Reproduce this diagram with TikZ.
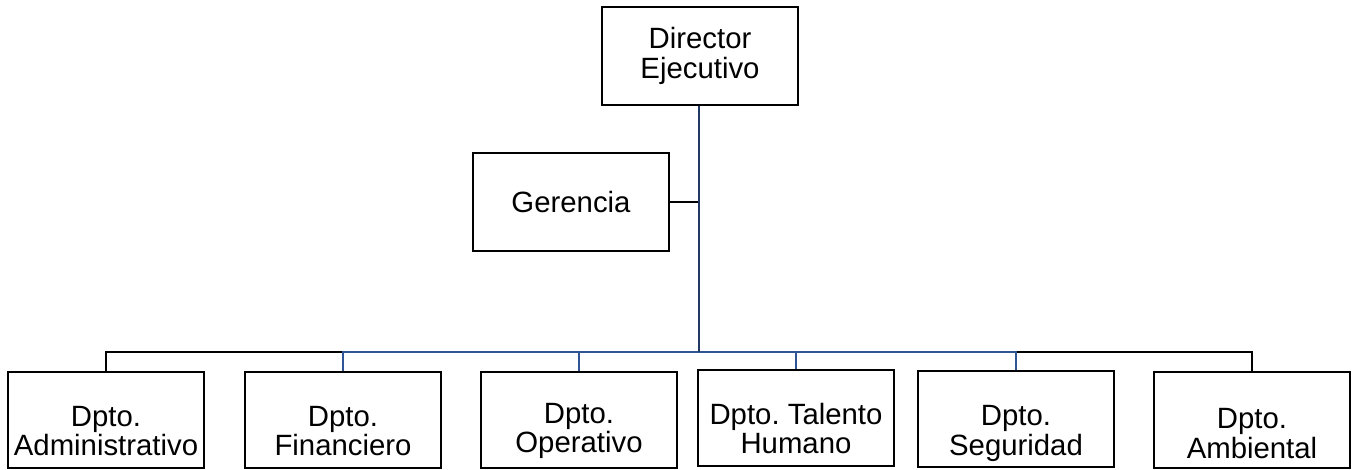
\documentclass[tikz,border=0pt]{standalone}
\usepackage{fontspec}
\setmainfont{Liberation Sans}
\usepackage{tikz}
\usetikzlibrary{positioning}
\definecolor{navyline}{HTML}{1F3864}
\definecolor{deptblue}{HTML}{2F5597}
\newcommand{\lowtop}[1]{\rule{0pt}{#1}}

\begin{document}
\begin{tikzpicture}[x=0.02cm,y=-0.02cm,
  unitbox/.style={draw,line width=1.2pt,minimum width=3.92cm,minimum height=1.92cm,
    align=center,inner sep=1pt,font=\fontsize{16.7}{17}\selectfont},
  thinline/.style={line width=0.6pt},
  blueline/.style={line width=1pt,deptblue},
  mainline/.style={line width=1.4pt,navyline}]
\useasboundingbox (0,0) rectangle (1357,470);

% Direccion
\node[unitbox,minimum height=1.96cm] (dir) at (700,56) {Director\\Ejecutivo};
\node[unitbox,minimum height=1.96cm] (ger) at (571,202) {Gerencia};

% Departamentos
\node[unitbox] (adm) at (106,420) {\lowtop{24pt}Dpto.\\Administrativo};
\node[unitbox] (fin) at (343,420) {\lowtop{24pt}Dpto.\\Financiero};
\node[unitbox] (ope) at (579,420) {\lowtop{24pt}Dpto.\\Operativo};
\node[unitbox] (tal) at (796,418) {\lowtop{24pt}Dpto.\ Talento\\Humano};
\node[unitbox] (seg) at (1016,419) {\lowtop{28pt}Dpto.\\Seguridad};
\node[unitbox] (amb) at (1252,420) {\lowtop{27pt}Dpto.\\Ambiental};

% Conexiones
\coordinate (bus) at (699,352);
\draw[thinline] (adm.north) |- (amb.north |- bus) -- (amb.north);
\draw[blueline] (fin.north) |- (seg.north |- bus) -- (seg.north);
\draw[blueline] (ope.north) -- (ope.north |- bus);
\draw[blueline] (tal.north) -- (tal.north |- bus);
\draw[thinline] (ger.east) -- (ger.east -| bus);
\draw[mainline] (dir.south -| bus) -- (bus);
\end{tikzpicture}
\end{document}
